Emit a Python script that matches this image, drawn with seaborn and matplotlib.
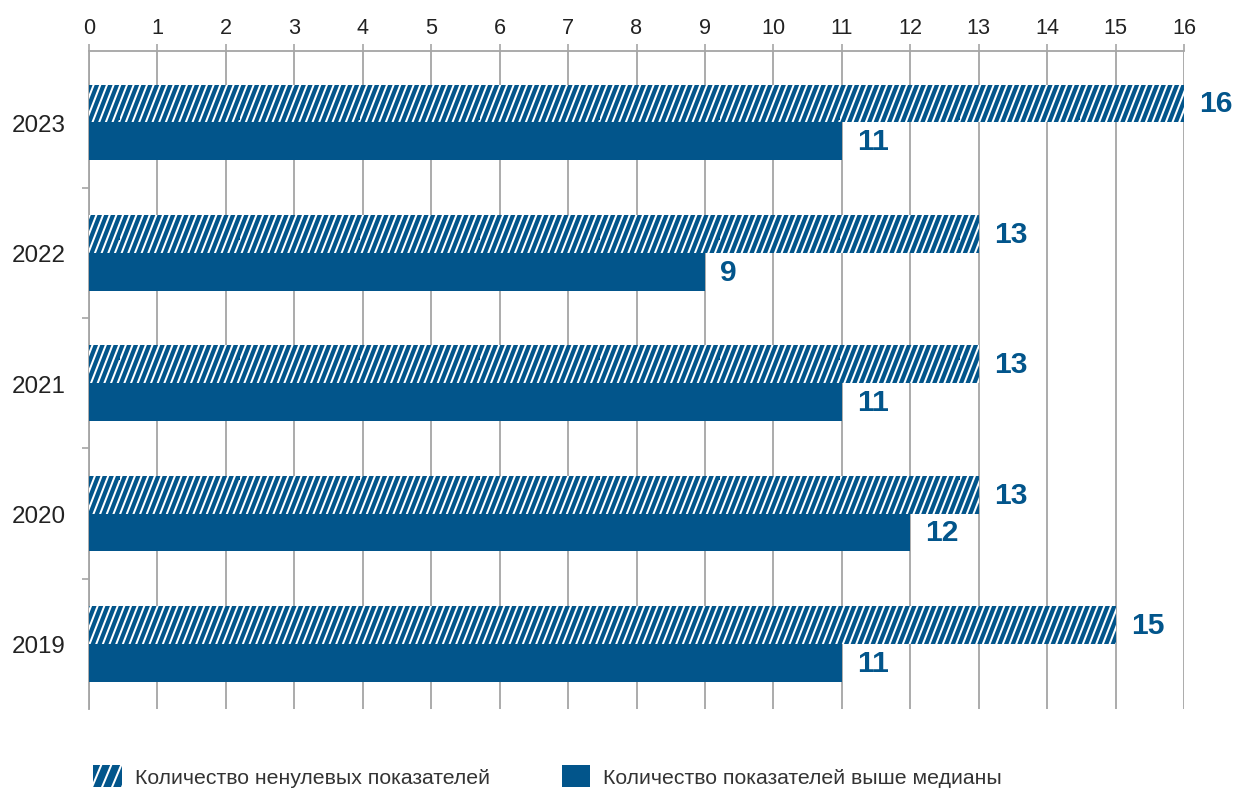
import pandas as pd
import numpy as np
import matplotlib.pyplot as plt
import matplotlib.hatch as mhatch
from matplotlib.path import Path
import seaborn as sns
from matplotlib.patches import Patch

# data
years = ['2023', '2022', '2021', '2020', '2019']
nonzero = [16, 13, 13, 13, 15]
above_median = [11, 9, 11, 12, 11]
series_names = ['Количество ненулевых показателей', 'Количество показателей выше медианы']
xticks = list(range(0, 17))

blue = '#02558b'
grid_grey = '#a6a6a6'


class SteepHatch(mhatch.HatchPatternBase):
    # steep diagonal stripes ('s'), like the original chart, instead of 45 deg '/'
    def __init__(self, hatch, density):
        self.n = hatch.count('s') * density
        self.k = int(round(self.n * 0.4))
        self.num_lines = self.n + self.k if self.n else 0
        self.num_vertices = self.num_lines * 2

    def set_vertices_and_codes(self, vertices, codes):
        i = np.arange(-self.k, self.n)
        vertices[0::2, 0] = i / self.n
        vertices[0::2, 1] = 0.0
        vertices[1::2, 0] = (i + self.k) / self.n
        vertices[1::2, 1] = 1.0
        codes[0::2] = Path.MOVETO
        codes[1::2] = Path.LINETO


mhatch._hatch_types.append(SteepHatch)

df = pd.DataFrame({
    'year': years * 2,
    'value': nonzero + above_median,
    'series': [series_names[0]] * len(years) + [series_names[1]] * len(years),
})

sns.set_style('white')
plt.rcParams['font.family'] = ['Liberation Sans', 'DejaVu Sans']
plt.rcParams['hatch.linewidth'] = 1.2

fig = plt.figure(figsize=(10.3, 6.5833), dpi=120)
ax = fig.add_axes([0.072, 0.101, 0.886, 0.833])

sns.barplot(data=df, y='year', x='value', hue='series', order=years,
            hue_order=series_names, palette=[blue, blue], saturation=1, width=0.58,
            orient='h', legend=False, ax=ax, zorder=3)

# hatched first series
for bar in ax.containers[0]:
    bar.set_hatch('sss')
    bar.set_edgecolor('white')
    bar.set_linewidth(0)
for bar in ax.containers[1]:
    bar.set_linewidth(0)

for cont in ax.containers:
    ax.bar_label(cont, padding=9, fontsize=18, fontweight='bold', color=blue)

# axes styling
ax.set_xlim(0, 16)
ax.set_ylim(4.5, -0.546)
ax.set_xticks(xticks)
ax.xaxis.tick_top()
ax.tick_params(axis='x', which='major', length=4, width=1, color=grid_grey,
               labelsize=13, pad=4, labelcolor='#222222')
ax.set_yticks(range(len(years)))
ax.set_yticklabels(years)
ax.set_yticks([0.5, 1.5, 2.5, 3.5], minor=True)
ax.tick_params(axis='y', which='major', length=0, labelsize=14.5, pad=14,
               labelcolor='#222222')
ax.tick_params(axis='y', which='minor', length=4, width=1, color=grid_grey, left=True)
ax.grid(axis='x', color=grid_grey, linewidth=1.1, zorder=0)
ax.set_axisbelow(True)
for side in ['right', 'bottom']:
    ax.spines[side].set_visible(False)
for side in ['top', 'left']:
    ax.spines[side].set_color(grid_grey)
    ax.spines[side].set_linewidth(1.1)
ax.set_xlabel('')
ax.set_ylabel('')

handles = [
    Patch(facecolor=blue, edgecolor='white', hatch='ss', linewidth=0),
    Patch(facecolor=blue, edgecolor=blue, linewidth=0),
]
fig.legend(handles, series_names, loc='center left', bbox_to_anchor=(0.0753, 0.016),
           ncol=2, frameon=False, fontsize=12.75, handlelength=1.35, handleheight=1.15,
           handletextpad=0.6, columnspacing=3.4, borderpad=0, borderaxespad=0,
           labelcolor='#333333')

plt.savefig('out.png', dpi=120)
